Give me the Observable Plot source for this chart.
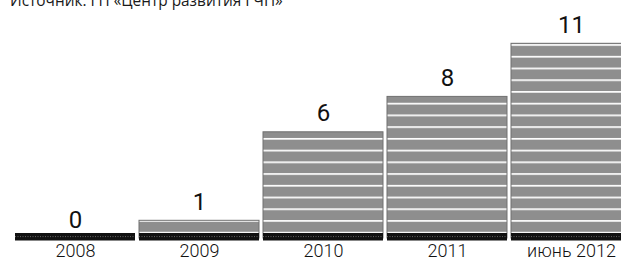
<!DOCTYPE html>
<html>
<head>
<meta charset="utf-8">
<script src="https://cdn.jsdelivr.net/npm/d3@7"></script>
<script src="https://cdn.jsdelivr.net/npm/@observablehq/plot@0.6"></script>
<style>
  html, body { margin: 0; padding: 0; background: #fff; overflow: hidden; }
  #wrap { position: relative; width: 621px; height: 260px; overflow: hidden; }
  #source { position: absolute; left: 10px; top: -6.7px; font-family: "Open Sans", sans-serif; font-size: 15.4px; line-height: 1; color: #1a1a1a; white-space: nowrap; }
  #chart { position: absolute; left: 0; top: 0; }
</style>
</head>
<body>
<svg width="0" height="0" style="position:absolute">
  <defs>
    <pattern id="stripes" patternUnits="userSpaceOnUse" x="0" y="8.93" width="20" height="11.73">
      <rect width="20" height="11.73" fill="#8e8e8e"></rect>
      <rect y="0" width="20" height="1.7" fill="#ffffff"></rect>
    </pattern>
  </defs>
</svg>
<div id="wrap">
  <div id="chart"></div>
  <div id="source">Источник: ГП «Центр развития ГЧП»</div>
</div>
<script>
const years = ["2008", "2009", "2010", "2011", "июнь 2012"];
const counts = [0, 1, 6, 8, 11];

const data = years.map((year, i) => ({year, count: counts[i]}));
const font = 'Roboto, "DejaVu Sans Condensed", sans-serif';

const chart = Plot.plot({
  width: 621,
  height: 260,
  marginTop: 0,
  marginBottom: 20,
  marginLeft: 0,
  marginRight: 0,
  style: {background: "transparent", fontFamily: font, overflow: "hidden"},
  x: {domain: years, range: [14, 632.5], paddingInner: 0.033, paddingOuter: 0, label: null},
  y: {domain: [0, 11], range: [238, 43.3], axis: null},
  marks: [
    Plot.barY(data, {x: "year", y: "count", fill: "url(#stripes)", stroke: "#707070", strokeWidth: 1}),
    Plot.tickY(data, {x: "year", y: () => 0, stroke: "#111", strokeWidth: 7.5, dy: -1.65}),
    Plot.tickY(data, {x: "year", y: () => 0, stroke: "#777", strokeWidth: 0.8, strokeDasharray: "1 1.5", dy: -1.9}),
    Plot.text(data, {x: "year", y: "count", text: d => String(d.count), dy: -11, lineAnchor: "bottom", fontSize: 24, fontWeight: "normal", fill: "#111", fontFamily: font}),
    Plot.axisX({tickSize: 0, tickPadding: 4, fontSize: 18, fontWeight: 300, fill: "#111", fontFamily: font, label: null})
  ]
});
document.getElementById("chart").appendChild(chart);
</script>
</body>
</html>
